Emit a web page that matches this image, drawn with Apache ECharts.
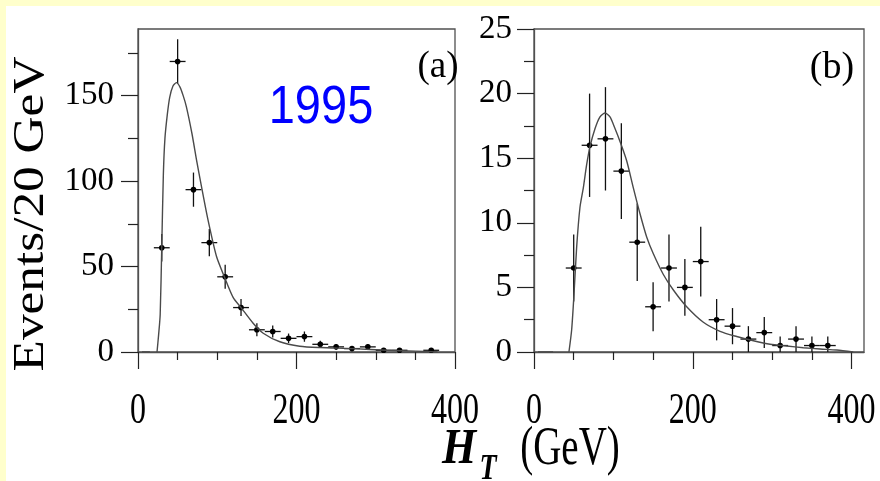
<!DOCTYPE html>
<html>
<head>
<meta charset="utf-8">
<script src="https://cdn.jsdelivr.net/npm/echarts@6/dist/echarts.min.js"></script>
<style>
  html, body { margin: 0; padding: 0; }
  #main { width: 880px; height: 481px; }
</style>
</head>
<body>
<div id="main"></div>
<script>
// ---- Measured H_T spectra, 20 GeV bins ----
const binWidth = 20;

// (a) bin centres, events per bin, statistical errors
const htA     = [30, 50, 70, 90, 110, 130, 150, 170, 190, 210, 230, 250, 270, 290, 310, 330, 370];
const eventsA = [61, 170, 95, 64, 44, 26, 13, 12, 8, 9, 4.5, 3, 2, 3, 1, 1, 1];
const errorsA = [8, 13, 10, 8, 7, 5, 3.8, 3.5, 2.8, 3, 2.1, 1.7, 1.4, 1.7, 1, 1, 1];

// (b) bin centres, events per bin, statistical errors
const htB     = [50, 70, 90, 110, 130, 150, 170, 190, 210, 230, 250, 270, 290, 310, 330, 350, 370];
const eventsB = [6.5, 16, 16.5, 14, 8.5, 3.5, 6.5, 5, 7, 2.5, 2, 1, 1.5, 0.5, 1, 0.5, 0.5];
const errorsB = [2.6, 4, 4, 3.7, 3, 1.9, 2.6, 2.2, 2.7, 1.6, 1.4, 1, 1.2, 0.7, 1, 0.7, 0.7];

// Expected shape (solid curves)
const fitAx = [24, 26, 28, 30, 32, 34, 37, 40, 44, 48.5, 53, 57, 61, 68, 74, 80, 88, 99, 109, 120, 130, 145, 158, 179, 204, 230, 272, 314, 350, 378];
const fitAy = [0, 10, 22, 62, 104, 125, 139, 149, 155.5, 157.6, 155, 150, 143.6, 128, 112, 97, 78, 56, 44, 32, 26, 17, 11, 6, 3.4, 2.6, 2, 1, 0.5, 0];
const fitBx = [44, 47.4, 50.4, 53.7, 57.9, 62.1, 66.3, 70.5, 76.9, 83.1, 89.4, 95.7, 102, 108.3, 116.7, 125.1, 133.5, 141.9, 150.3, 162.9, 175.5, 192.3, 213.3, 234.3, 255.3, 276.3, 297.3, 318.2, 339.2, 360.2, 381.2, 402];
const fitBy = [0, 1.7, 4.5, 8.1, 11.2, 12.7, 14.5, 15.9, 17.3, 18.2, 18.5, 18.2, 17.3, 16.3, 14.8, 12.7, 10.7, 8.9, 7.6, 6.0, 4.8, 3.5, 2.3, 1.6, 1.2, 0.87, 0.6, 0.46, 0.33, 0.23, 0.15, 0];

// Short zero-level stubs left of each curve
const stubAx = [5, 15],  stubAy = [0, 0];
const stubBx = [5, 24],  stubBy = [0, 0];

// Axis ticks and labels
const xMajor = [0, 200, 400];
const xMinor = [50, 100, 150, 250, 300, 350];
const yMajorA = [0, 50, 100, 150];
const yMinorA = [25, 75, 125, 175];
const yMajorB = [0, 5, 10, 15, 20, 25];
const yMinorB = [2.5, 7.5, 12.5, 17.5, 22.5];
const xMaxA = 400, xMaxB = 415.6;
const yMaxA = 189, yMaxB = 25;

const SERIF = '"Liberation Serif", "Times New Roman", serif';
const SANS = '"Liberation Sans", Arial, sans-serif';
const AXIS_GREY = '#505050';

const zip = (xs, ys) => xs.map((x, i) => [x, ys[i]]);
const zip3 = (xs, ys, es) => xs.map((x, i) => [x, ys[i], es[i]]);

function xAxisPair(grid, max) {
  return [
    {
      gridIndex: grid, type: 'value', min: 0, max: max, position: 'bottom',
      axisLine: { onZero: false, lineStyle: { color: AXIS_GREY, width: 1.3 } },
      axisTick: { customValues: xMajor, length: 17, lineStyle: { color: '#222', width: 1.2 } },
      axisLabel: { show: false },
      splitLine: { show: false }
    },
    {
      gridIndex: grid, type: 'value', min: 0, max: max, position: 'bottom',
      axisLine: { show: false, onZero: false },
      axisTick: { customValues: xMinor, length: 8, lineStyle: { color: '#222', width: 1.2 } },
      axisLabel: { show: false },
      splitLine: { show: false }
    }
  ];
}

function yAxisPair(grid, max, major, minor, margin) {
  return [
    {
      gridIndex: grid, type: 'value', min: 0, max: max, position: 'left',
      axisLine: { onZero: false, lineStyle: { color: AXIS_GREY, width: 1.3 } },
      axisTick: { customValues: major, length: 17, lineStyle: { color: '#222', width: 1.2 } },
      axisLabel: {
        customValues: major, margin: margin, color: '#000',
        fontSize: 33, fontFamily: SERIF
      },
      splitLine: { show: false }
    },
    {
      gridIndex: grid, type: 'value', min: 0, max: max, position: 'left',
      axisLine: { show: false, onZero: false },
      axisTick: { customValues: minor, length: 10, lineStyle: { color: '#222', width: 1.2 } },
      axisLabel: { show: false },
      splitLine: { show: false }
    }
  ];
}

function errorBars(params, api) {
  const x = api.value(0), y = api.value(1), e = api.value(2);
  const c = api.coord([x, y]);
  const top = api.coord([x, y + e]);
  const bot = api.coord([x, Math.max(0, y - e)]);
  const l = api.coord([x - binWidth / 2, y]);
  const r = api.coord([x + binWidth / 2, y]);
  const stroke = { stroke: '#111', lineWidth: 1.3 };
  return {
    type: 'group',
    children: [
      { type: 'line', shape: { x1: top[0], y1: top[1], x2: bot[0], y2: bot[1] }, style: stroke },
      { type: 'line', shape: { x1: l[0], y1: l[1], x2: r[0], y2: r[1] }, style: stroke },
      { type: 'circle', shape: { cx: c[0], cy: c[1], r: 2.8 }, style: { fill: '#000' } }
    ]
  };
}

function curve(xi, yi, data) {
  return {
    type: 'line', xAxisIndex: xi, yAxisIndex: yi, data: data,
    showSymbol: false, smooth: 0.25, silent: true,
    lineStyle: { color: '#4a4a4a', width: 1.4 }
  };
}

function points(xi, yi, data) {
  return {
    type: 'custom', xAxisIndex: xi, yAxisIndex: yi, data: data,
    renderItem: errorBars, encode: { x: 0, y: 1 }, z: 3, silent: true
  };
}

const gridStyle = { show: true, borderColor: AXIS_GREY, borderWidth: 1.3, backgroundColor: 'transparent' };

const chart = echarts.init(document.getElementById('main'));
const option = {
  animation: false,
  backgroundColor: '#FFFFCC',
  grid: [
    Object.assign({ left: 138, top: 29, width: 317, height: 323 }, gridStyle),
    Object.assign({ left: 534, top: 29, width: 330, height: 323 }, gridStyle)
  ],
  xAxis: xAxisPair(0, xMaxA).concat(xAxisPair(1, xMaxB)),
  yAxis: yAxisPair(0, yMaxA, yMajorA, yMinorA, 24).concat(yAxisPair(1, yMaxB, yMajorB, yMinorB, 22)),
  series: [
    curve(0, 0, zip(fitAx, fitAy)),
    curve(0, 0, zip(stubAx, stubAy)),
    points(0, 0, zip3(htA, eventsA, errorsA)),
    curve(2, 2, zip(fitBx, fitBy)),
    curve(2, 2, zip(stubBx, stubBy)),
    points(2, 2, zip3(htB, eventsB, errorsB))
  ]
};
chart.setOption(option);

// Text drawn as graphic elements (tall serif lettering on the lower axis)
function txt(text, x, y, font, extra) {
  return Object.assign({
    type: 'text', x: x, y: y, silent: true,
    style: Object.assign({
      text: text, fill: '#000',
      align: 'center', verticalAlign: 'middle',
      textAlign: 'center', textVerticalAlign: 'middle'
    }, font)
  }, extra || {});
}

const labels = [];
[0, 2].forEach(function (axisIdx) {
  xMajor.forEach(function (v) {
    const px = chart.convertToPixel({ xAxisIndex: axisIdx }, v);
    labels.push(txt(String(v), px, 411, { fontSize: 32, fontFamily: SERIF }, { scaleY: 1.4 }));
  });
});

chart.setOption({
  graphic: [
    { type: 'rect', z: -10, silent: true, shape: { x: 6, y: 6, width: 880, height: 481 }, style: { fill: '#FFFFFF' } },
    txt('Events/20 GeV', 31, 214, { fontSize: 45, fontFamily: SERIF }, { rotation: Math.PI / 2, scaleX: 1.14 }),
    txt('(a)', 438, 67, { fontSize: 37, fontFamily: SERIF }),
    txt('(b)', 832, 68, { fontSize: 38, fontFamily: SERIF }),
    txt('1995', 321, 108, { fontSize: 47, fontFamily: SANS, fill: '#0000FF' }, { scaleY: 1.13 }),
    txt('H', 459, 450, { fontSize: 44, fontFamily: SERIF, fontStyle: 'italic', fontWeight: 'bold' }, { scaleY: 1.15 }),
    txt('T', 488, 470, { fontSize: 28, fontFamily: SERIF, fontStyle: 'italic', fontWeight: 'bold' }, { scaleY: 1.3 }),
    txt('(GeV)', 570, 450, { fontSize: 39, fontFamily: SERIF }, { scaleY: 1.4 })
  ].concat(labels)
});
</script>
</body>
</html>
